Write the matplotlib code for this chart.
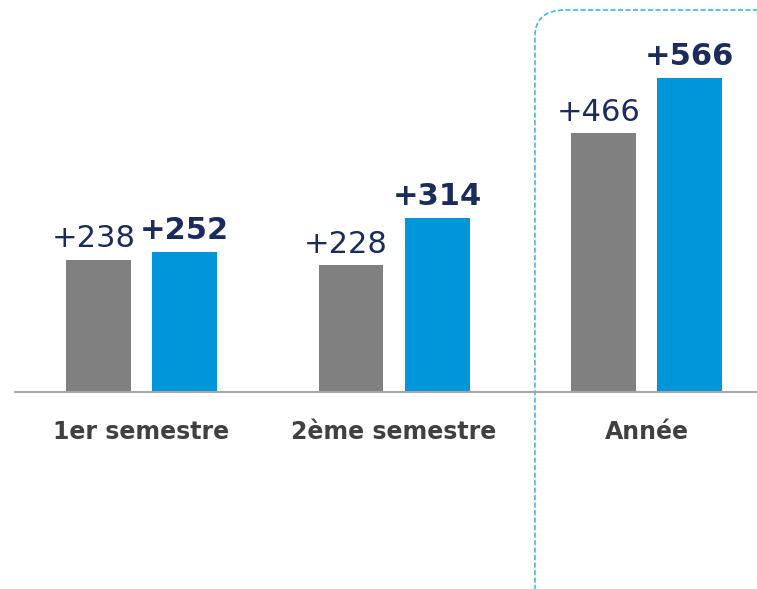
import matplotlib.pyplot as plt
from matplotlib.patches import FancyBboxPatch
import numpy as np

categories = ['1er semestre', '2ème semestre', 'Année']
prev_values = [238, 228, 466]
curr_values = [252, 314, 566]

gray = '#808080'
blue = '#0096d9'
navy = '#1a2b5c'

fig = plt.figure(figsize=(7.57, 5.89), dpi=100)
ax = fig.add_axes([0, 0, 1, 1])
ax.set_xlim(-0.5604, 2.4376)
ax.set_ylim(-355, 706)
ax.axis('off')

x = np.arange(len(categories))
w = 0.2574
off = 0.1703
ax.bar(x - off, prev_values, w, color=gray)
ax.bar(x + off, curr_values, w, color=blue)

# baseline
ax.plot([-0.5, 2.4376], [0, 0], color='#a6a6a6', lw=1.5, clip_on=False)

for xi, v in zip(x, prev_values):
    ax.text(xi - off - 0.02, v + 12, f'+{v}', ha='center', va='bottom',
            fontsize=22, color=navy)
for xi, v in zip(x, curr_values):
    ax.text(xi + off, v + 12, f'+{v}', ha='center', va='bottom',
            fontsize=22, color=navy, fontweight='bold')

for xi, c in zip(x, categories):
    ax.text(xi, -72, c, ha='center', va='center', fontsize=17,
            color='#404040', fontweight='bold')

# dashed highlight box around the year
box = FancyBboxPatch((1.558, -500), 1.2, 1188,
                     boxstyle='round,pad=0,rounding_size=0.12',
                     fill=False, ec='#3db8e8', lw=1.2, ls=(0, (3, 1.5)),
                     mutation_aspect=400, clip_on=True)
ax.add_patch(box)

fig.savefig('out.png', dpi=100)
